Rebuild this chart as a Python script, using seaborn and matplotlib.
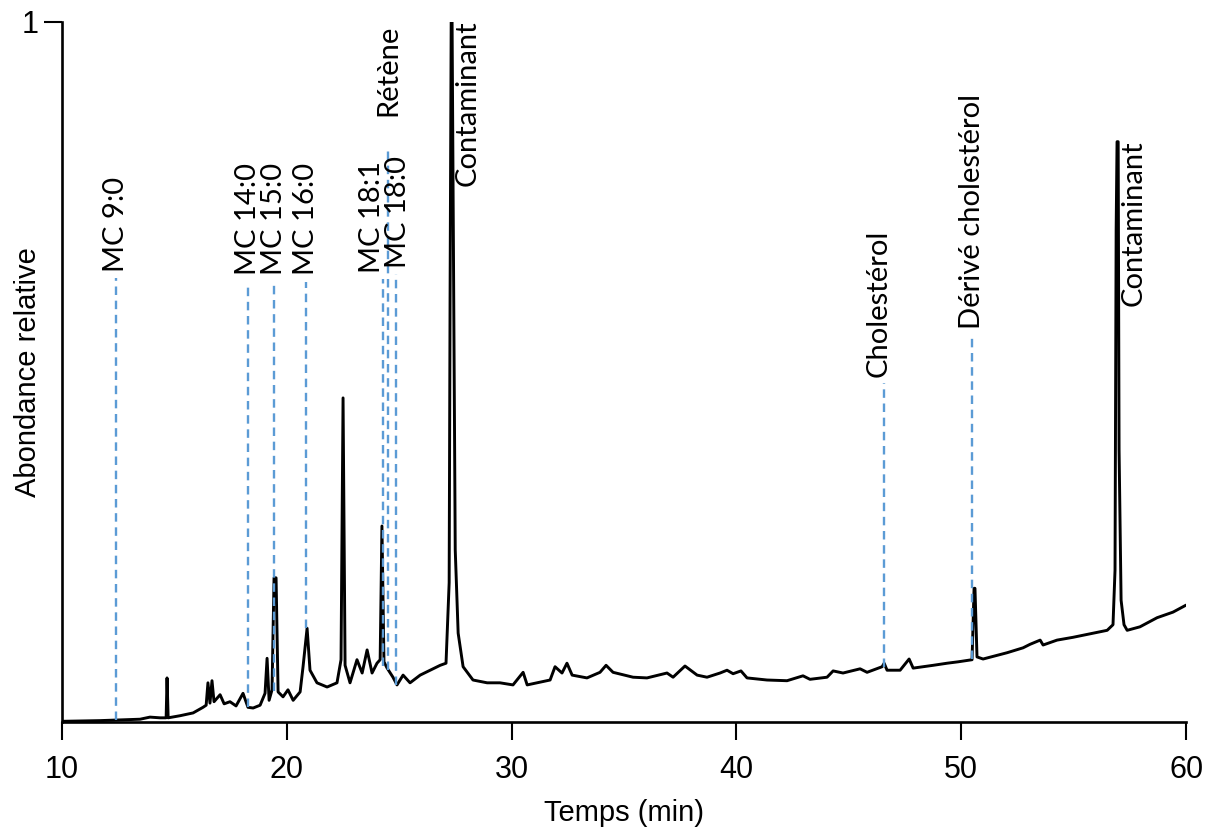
"""Chromatogramme GC-MS : abondance relative en fonction du temps de rétention."""

import matplotlib

matplotlib.use("Agg")

import matplotlib.pyplot as plt
import pandas as pd
import seaborn as sns

# Trace (time in min, relative abundance)
times = [
    10.00, 11.69, 13.47, 13.91, 14.36, 14.63, 14.67, 14.72, 15.25, 15.83,
    16.27, 16.41, 16.49, 16.58, 16.67, 16.76, 17.03, 17.21, 17.47, 17.74,
    18.05, 18.27, 18.50, 18.81, 19.03, 19.12, 19.21, 19.34, 19.43, 19.52,
    19.61, 19.83, 20.05, 20.28, 20.59, 20.72, 20.90, 21.03, 21.34, 21.79,
    22.23, 22.41, 22.50, 22.59, 22.81, 23.12, 23.35, 23.57, 23.79, 24.01,
    24.15, 24.23, 24.32, 24.46, 24.72, 24.90, 25.17, 25.48, 25.93, 26.37,
    26.82, 27.08, 27.22, 27.26, 27.31, 27.35, 27.45, 27.49, 27.62, 27.84,
    28.28, 28.91, 29.48, 30.06, 30.51, 30.69, 31.71, 31.93, 32.24, 32.46,
    32.69, 33.35, 33.93, 34.20, 34.51, 35.40, 36.02, 36.91, 37.18, 37.71,
    38.25, 38.69, 39.27, 39.58, 39.85, 40.20, 40.47, 41.36, 42.25, 42.96,
    43.27, 44.03, 44.30, 44.74, 45.50, 45.81, 46.48, 46.57, 46.70, 47.28,
    47.68, 47.86, 48.75, 49.37, 49.86, 50.48, 50.57, 50.61, 50.70, 50.97,
    52.04, 52.75, 53.06, 53.51, 53.64, 54.26, 54.97, 55.73, 56.49, 56.75,
    56.84, 56.89, 56.93, 56.98, 57.02, 57.11, 57.24, 57.38, 57.95, 58.71,
    59.42, 60.00,
]
abundance = [
    0.001, 0.002, 0.004, 0.007, 0.006, 0.006, 0.063, 0.006, 0.009, 0.013,
    0.021, 0.024, 0.056, 0.027, 0.059, 0.029, 0.039, 0.026, 0.029, 0.023,
    0.041, 0.021, 0.020, 0.024, 0.041, 0.091, 0.031, 0.046, 0.206, 0.206,
    0.043, 0.036, 0.046, 0.031, 0.043, 0.079, 0.134, 0.074, 0.056, 0.050,
    0.056, 0.089, 0.463, 0.081, 0.056, 0.089, 0.070, 0.103, 0.070, 0.084,
    0.089, 0.280, 0.086, 0.077, 0.064, 0.053, 0.067, 0.056, 0.067, 0.074,
    0.081, 0.084, 0.199, 0.603, 1.000, 1.000, 0.460, 0.246, 0.127, 0.079,
    0.060, 0.056, 0.056, 0.053, 0.071, 0.053, 0.060, 0.079, 0.070, 0.084,
    0.067, 0.063, 0.071, 0.081, 0.071, 0.064, 0.063, 0.070, 0.064, 0.080,
    0.067, 0.064, 0.070, 0.074, 0.069, 0.073, 0.063, 0.060, 0.059, 0.066,
    0.061, 0.064, 0.073, 0.070, 0.076, 0.071, 0.079, 0.084, 0.074, 0.074,
    0.090, 0.077, 0.081, 0.084, 0.086, 0.089, 0.191, 0.191, 0.093, 0.090,
    0.099, 0.106, 0.111, 0.117, 0.110, 0.117, 0.121, 0.126, 0.131, 0.139,
    0.217, 0.703, 0.829, 0.829, 0.389, 0.174, 0.139, 0.131, 0.136, 0.149,
    0.157, 0.167,
]

# Identified compounds (dashed markers)
compounds = [
    "MC 9:0", "MC 14:0", "MC 15:0", "MC 16:0", "MC 18:1",
    "Rétène", "MC 18:0", "Cholestérol", "Dérivé cholestérol",
]
compound_times = [12.40, 18.27, 19.43, 20.85, 24.28, 24.50, 24.86, 46.57, 50.48]
marker_low = [0.003, 0.021, 0.045, 0.134, 0.080, 0.074, 0.053, 0.079, 0.090]
marker_high = [0.634, 0.629, 0.629, 0.629, 0.633, 0.817, 0.640, 0.484, 0.553]

# Contaminant peaks
contaminant_times = [27.31, 56.93]
contaminant_heights = [1.000, 0.829]

trace = pd.DataFrame({"temps": times, "abondance": abundance})

sns.set_style("ticks")
plt.rcParams["font.family"] = ["Liberation Sans", "DejaVu Sans"]
plt.rcParams["text.color"] = "black"
plt.rcParams["axes.labelcolor"] = "black"
plt.rcParams["xtick.color"] = "black"
plt.rcParams["ytick.color"] = "black"

fig = plt.figure(figsize=(12.12, 8.30), dpi=100)
ax = fig.add_axes([0.0512, 0.1301, 0.9274, 0.8434])

sns.lineplot(
    data=trace, x="temps", y="abondance", ax=ax, estimator=None,
    color="black", linewidth=2.1, zorder=2,
)

label_font = {"family": ["Lato", "DejaVu Sans"], "size": 21}
# small layout nudges so the crowded labels sit like in the original
label_dx = {"MC 18:1": -0.50, "MC 18:0": 0.10, "Cholestérol": -0.25}
label_dy = {"Rétène": 0.04}
for name, t, lo, hi in zip(compounds, compound_times, marker_low, marker_high):
    ax.plot([t, t], [lo, hi], color="#5b9bd5", linewidth=1.7,
            linestyle=(0, (3.6, 2.4)), zorder=3)
    ax.text(t + label_dx.get(name, 0.0), hi + 0.009 + label_dy.get(name, 0.0),
            name, rotation=90, ha="center", va="bottom",
            fontdict=label_font, zorder=4)

for t, h in zip(contaminant_times, contaminant_heights):
    ax.text(t + 0.75, h + 0.002, "Contaminant", rotation=90,
            ha="center", va="top", fontdict=label_font, zorder=4)

ax.set_xlim(10, 60)
ax.set_ylim(0, 1)
ax.set_xticks([10, 20, 30, 40, 50, 60])
ax.set_yticks([1])
ax.tick_params(axis="both", direction="out", length=13, width=1.5,
               labelsize=22, color="black", labelcolor="black")
ax.tick_params(axis="x", pad=11)
ax.tick_params(axis="y", pad=4)
ax.set_xlabel("Temps (min)", fontsize=21, labelpad=10, color="black")
ax.set_ylabel("Abondance relative", fontsize=21, color="black")
ax.yaxis.set_label_coords(-0.018, 0.5)
sns.despine(ax=ax)
for side in ("left", "bottom"):
    ax.spines[side].set_linewidth(1.9)
    ax.spines[side].set_color("black")

fig.savefig("out.png", dpi=100)
